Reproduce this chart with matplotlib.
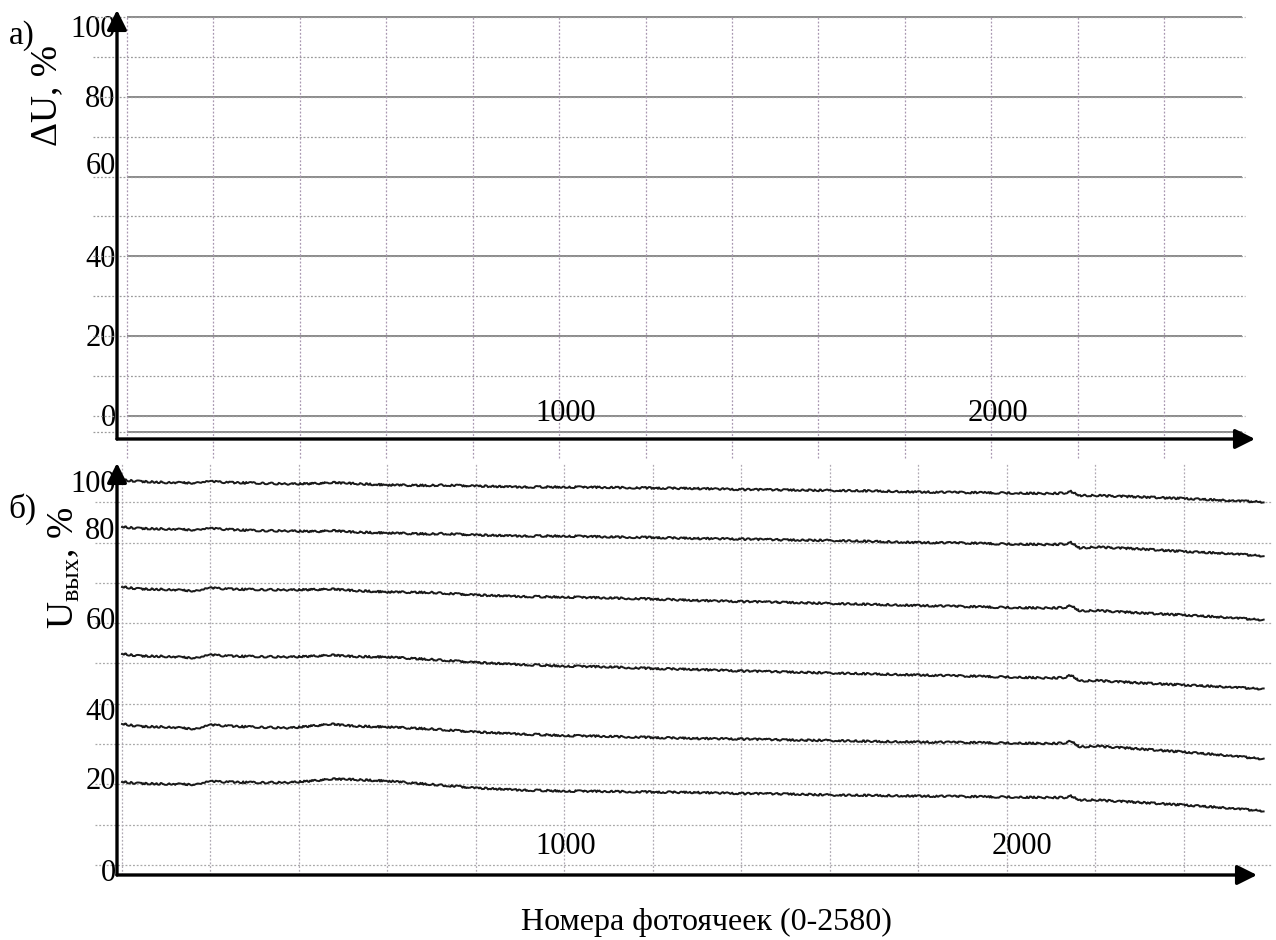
import matplotlib

matplotlib.use("Agg")
import matplotlib.pyplot as plt

plt.rcParams["font.family"] = ["Liberation Serif", "DejaVu Serif"]
plt.rcParams["mathtext.fontset"] = "custom"
plt.rcParams["mathtext.rm"] = "Liberation Serif"

# --- panel a: ΔU levels across the photocell line ---
a_levels = [100, 80, 60, 40, 20, 0, -4]
a_grid_y = [100, 90, 80, 70, 60, 50, 40, 30, 20, 10, 0, -4]
a_tick_pos = [97.7, 80.2, 63.4, 40.1, 20.3, 0.3]
a_tick_labels = ["100", "80", "60", "40", "20", "0"]
n_cells = 2580

# --- panel b: output signal for six illumination levels ---
b_x = [0, 40, 100, 170, 200, 240, 300, 380, 440, 470, 520, 600, 700, 720,
       800, 900, 1000, 1100, 1200, 1300, 1400, 1500, 1600, 1700, 1800, 1900,
       2000, 2100, 2130, 2145, 2165, 2200, 2300, 2400, 2500, 2580]
u_100 = [95.53, 95.16, 94.91, 94.79, 95.16, 94.91, 94.79, 94.54, 94.67, 94.91,
         94.67, 94.29, 94.17, 94.29, 94.04, 93.80, 93.80, 93.67, 93.55, 93.42,
         93.18, 93.05, 92.93, 92.80, 92.56, 92.43, 92.31, 92.18, 92.31, 92.68,
         91.69, 91.69, 91.32, 90.94, 90.45, 90.07]
u_80 = [83.87, 83.50, 83.37, 83.13, 83.50, 83.25, 83.00, 82.88, 82.75, 83.00,
        82.63, 82.38, 82.13, 82.26, 81.89, 81.64, 81.64, 81.39, 81.27, 81.02,
        80.89, 80.65, 80.52, 80.27, 80.02, 79.90, 79.65, 79.53, 79.65, 80.02,
        78.66, 78.91, 78.41, 77.79, 77.30, 76.67]
u_65 = [68.98, 68.49, 68.36, 67.99, 68.73, 68.49, 68.36, 68.24, 68.36, 68.49,
        68.11, 67.74, 67.62, 67.49, 67.00, 66.63, 66.50, 66.25, 66.00, 65.63,
        65.38, 65.14, 64.89, 64.64, 64.39, 64.14, 63.90, 63.77, 63.90, 64.39,
        63.03, 63.15, 62.53, 62.03, 61.41, 60.79]
u_50 = [52.36, 51.86, 51.74, 51.36, 52.11, 51.86, 51.74, 51.61, 51.86, 52.11,
        51.74, 51.61, 50.99, 50.87, 50.25, 49.75, 49.38, 49.13, 48.76, 48.51,
        48.14, 47.89, 47.64, 47.39, 47.15, 46.90, 46.65, 46.40, 46.53, 47.15,
        45.66, 45.78, 45.16, 44.67, 44.17, 43.67]
u_35 = [34.99, 34.37, 34.24, 33.75, 34.74, 34.49, 34.24, 34.00, 34.62, 34.99,
        34.49, 34.24, 33.75, 33.62, 33.00, 32.51, 32.13, 31.89, 31.64, 31.39,
        31.27, 31.02, 30.89, 30.65, 30.52, 30.40, 30.27, 30.15, 30.27, 30.77,
        29.28, 29.53, 28.78, 28.04, 27.17, 26.30]
u_20 = [20.60, 20.22, 20.10, 19.98, 20.72, 20.60, 20.47, 20.47, 20.97, 21.34,
        21.22, 20.84, 19.98, 19.85, 19.11, 18.61, 18.36, 18.24, 18.11, 17.99,
        17.74, 17.62, 17.37, 17.25, 17.12, 17.00, 16.87, 16.75, 16.75, 17.12,
        16.13, 16.13, 15.51, 14.89, 14.14, 13.40]
b_series = [u_100, u_80, u_65, u_50, u_35, u_20]
b_grid_y = [0, 10, 20, 30, 40, 50, 60, 70, 80, 90]
b_tick_pos = [95.3, 83.6, 61.3, 38.7, 21.6, -1.2]
b_tick_labels = ["100", "80", "60", "40", "20", "0"]

grid_x = list(range(0, 2401, 200))
x_labels = ["1000", "2000"]
x_label_vals = [1000, 2000]

TICK_FS = 22
DOT = (0, (1.5, 1.5))


def draw_axis_arrows(ax):
    for s in ax.spines.values():
        s.set_visible(False)
    style = "-|>,head_length=0.6,head_width=0.3"
    for tip in [(0, 1), (1, 0)]:
        ax.annotate("", xy=tip, xytext=(0, 0), xycoords="axes fraction",
                    arrowprops=dict(arrowstyle=style, lw=2.4, color="black",
                                    mutation_scale=20, shrinkA=0, shrinkB=0),
                    annotation_clip=False, zorder=10)


def style_ticks(ax, pos, labels):
    ax.set_xticks([])
    ax.set_yticks(pos, labels)
    ax.tick_params(axis="y", length=0, pad=1, labelsize=TICK_FS)


fig = plt.figure(figsize=(12.76, 9.40), dpi=100)

# panel a
ax_a = fig.add_axes([117 / 1276, (940 - 439) / 940, (1255 - 117) / 1276, (439 - 10) / 940])
ax_a.set_xlim(-23.1, 2610)
ax_a.set_ylim(-5.76, 101.75)
ax_a.hlines(a_levels, 0, n_cells, color="#8a8a8a", lw=1.4, zorder=2)
ax_a.hlines(a_grid_y, -79, 2587, color="#9a9a9a", lw=0.9, linestyles=DOT,
            clip_on=False, zorder=3)
ax_a.vlines(grid_x, -10.5, 100, color="#a897b0", lw=0.9, linestyles=DOT,
            clip_on=False, zorder=3)
for val, lab, dx in zip(x_label_vals, x_labels, [5, 5]):
    ax_a.annotate(lab, (val, 0.6), xytext=(dx, 0), textcoords="offset points",
                  ha="center", va="center", fontsize=TICK_FS, zorder=5)
style_ticks(ax_a, a_tick_pos, a_tick_labels)
ax_a.set_ylabel("ΔU, %", fontsize=27)
ax_a.yaxis.set_label_coords(-0.046, 0.80)
draw_axis_arrows(ax_a)

# panel b
ax_b = fig.add_axes([117 / 1276, (940 - 875) / 940, (1257 - 117) / 1276, (875 - 463) / 940])
ax_b.set_xlim(-11.3, 2565)
ax_b.set_ylim(-2.48, 99.75)
ax_b.hlines(b_grid_y, -61, 2599, color="#a8a8a8", lw=0.9, linestyles=DOT,
            clip_on=False, zorder=1)
ax_b.vlines(grid_x, -2.48, 99.75, color="#b0aab4", lw=0.9, linestyles=DOT,
            zorder=1)
for series in b_series:
    line, = ax_b.plot(b_x, series, color="#1a1a1a", lw=1.4, clip_on=False, zorder=4)
    # scanned-trace look: small jitter in rendering only
    line.set_sketch_params(scale=0.9, length=5, randomness=6)
for val, lab, dx in zip(x_label_vals, x_labels, [1, 11]):
    ax_b.annotate(lab, (val, 4.7), xytext=(dx, 0), textcoords="offset points",
                  ha="center", va="center", fontsize=TICK_FS, zorder=5)
style_ticks(ax_b, b_tick_pos, b_tick_labels)
ax_b.set_ylabel("U$_\\mathregular{вых}$, %", fontsize=27)
ax_b.yaxis.set_label_coords(-0.031, 0.745)
draw_axis_arrows(ax_b)

fig.text(22 / 1276, 1 - 36 / 940, "а)", fontsize=24, ha="center", va="center")
fig.text(22 / 1276, 1 - 509 / 940, "б)", fontsize=24, ha="center", va="center")
fig.text(706 / 1276, 1 - 922 / 940, "Номера фотоячеек (0-2580)", fontsize=23,
         ha="center", va="center")

fig.savefig("out.png", dpi=100)
plt.close(fig)
